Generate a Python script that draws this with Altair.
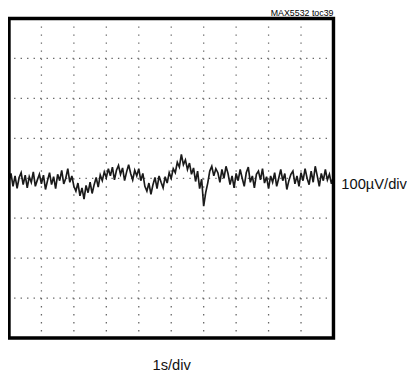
import altair as alt
import pandas as pd

# trace samples, microvolts, 16 per second (1 s/div, 100 uV/div)
sec0 = [-8, 12, -20, 6, -25, 2, 14, -16, 8, -24, 4, -10, 16, -20, -4, 10]
sec1 = [-14, 8, -28, -6, 14, -16, 4, -26, 10, -6, 20, -14, 0, 24, -10, 6]
sec2 = [-20, -32, -12, -44, -24, -52, -18, -36, -10, -38, -16, 2, -22, 8, -6, 16]
sec3 = [2, 24, 6, 28, -4, 20, 32, 10, 26, -6, 16, 34, 12, -4, 20, 6]
sec4 = [24, -6, 12, -20, -32, -12, -40, -16, 2, -26, 6, -10, -24, 4, -12, 14]
sec5 = [0, 24, 14, 40, 28, 60, 34, 46, 22, 38, 10, 26, -8, 18, -26, -2]
sec6 = [-70, -36, -12, 18, 30, 6, 24, 14, -10, 22, 0, 30, 12, -16, 6, -24]
sec7 = [12, -6, 22, 0, -20, 14, 28, -10, 6, -24, 10, 18, -4, 24, -12, 4]
sec8 = [-26, 6, -10, 14, -20, 0, 22, -6, 12, -28, -6, 10, 18, -14, 6, -20]
sec9 = [14, -6, 24, 0, -16, 18, -10, 30, 6, -20, 12, -6, 22, -4, 10, -14]
last = [6]

values = sec0 + sec1 + sec2 + sec3 + sec4 + sec5 + sec6 + sec7 + sec8 + sec9 + last
times = [i / 16 for i in range(len(values))]
x_ticks = list(range(0, 11))
y_ticks = list(range(-400, 401, 100))

df = pd.DataFrame({"t": times, "v": values})

W, H = 331, 326
font = "Liberation Sans Narrow, Arial Narrow, Liberation Sans, sans-serif"

xs = alt.Scale(domain=[0, 10], nice=False, zero=False)
ys = alt.Scale(domain=[-400, 400], nice=False, zero=False)

gx_df = pd.DataFrame({"gx": x_ticks})
gy_df = pd.DataFrame({"gy": y_ticks})

vgrid = alt.Chart(gx_df).mark_rule(color="#666", strokeWidth=1.3, strokeDash=[1.4, 6.75]).encode(
    x=alt.X("gx:Q", scale=xs, axis=None)
)
hgrid = alt.Chart(gy_df).mark_rule(color="#666", strokeWidth=1.3, strokeDash=[1.4, 5.22]).encode(
    y=alt.Y("gy:Q", scale=ys, axis=None)
)

trace = alt.Chart(df).mark_line(color="#1a1a1a", strokeWidth=1.7, strokeJoin="miter").encode(
    x=alt.X("t:Q", scale=xs, axis=None),
    y=alt.Y("v:Q", scale=ys, axis=None),
)

lab_df = pd.DataFrame({"k": [0]})
frame = alt.Chart(lab_df).mark_rect(fill=None, stroke="black", strokeWidth=3.5).encode(
    x=alt.value(0), x2=alt.value(W), y=alt.value(0), y2=alt.value(H)
)
ylab = alt.Chart(lab_df).mark_text(
    text="100\u00b5V/div", font=font, fontSize=15, align="left", baseline="middle", color="#111"
).encode(x=alt.value(339), y=alt.value(169))
xlab = alt.Chart(lab_df).mark_text(
    text="1s/div", font=font, fontSize=15, align="center", baseline="middle", color="#111"
).encode(x=alt.value(166), y=alt.value(354))
toc = alt.Chart(lab_df).mark_text(
    text="MAX5532 toc39", font=font, fontSize=9, align="right", baseline="alphabetic", color="#000"
).encode(x=alt.value(331), y=alt.value(-2.5))

chart = alt.layer(vgrid, hgrid, trace, frame, ylab, xlab, toc).properties(
    width=W, height=H,
    autosize=alt.AutoSizeParams(type="none"),
    padding={"left": 1, "top": 7, "right": 75, "bottom": 35},
).configure_view(stroke=None).configure(background="white")

chart.save("out.html", embed_options={"renderer": "svg", "actions": False})
